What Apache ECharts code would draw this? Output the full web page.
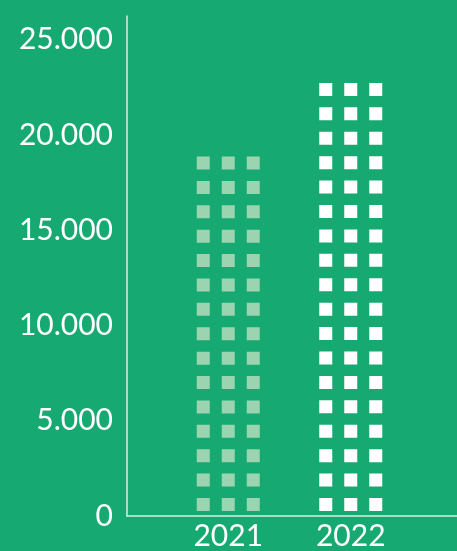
<!DOCTYPE html>
<html lang="en">
<head>
    <meta charset="UTF-8">
    <title>pictorial bar</title>
    <script type="text/javascript" src="https://cdn.jsdelivr.net/npm/echarts@6/dist/echarts.min.js"></script>
    <style>
        html, body { margin: 0; padding: 0; background: #16aa72; }
    </style>
</head>
<body>
    <div id="charts" style="width:457px;height:551px;"></div>
</body>
<script type="text/javascript">
    // data
    var years = ['2021', '2022'];
    var values = [18800, 22700];
    var squareRows = [15, 18];
    var squareColors = ['#9ad4b1', '#ffffff'];
    var yTicks = [0, 5000, 10000, 15000, 20000, 25000];

    var green = '#16aa72';
    var font = 'Lato';

    // 3 squares side by side, repeated up the bar
    var rowPath = 'path://M0,0h13v13h-13zM25,0h13v13h-13zM50,0h13v13h-13z';

    var myChart = echarts.init(document.getElementById('charts'));

    var option = {
        backgroundColor: green,
        animation: false,
        grid: [
            { left: 127, right: 0, top: 16, bottom: 35 },
            { left: 167, right: 45, top: 16, bottom: 35 }
        ],
        xAxis: [{
            gridIndex: 0,
            type: 'category',
            data: years,
            axisLine: { lineStyle: { color: '#d6eee2', width: 1.5 } },
            axisTick: { show: false },
            axisLabel: { show: false }
        }, {
            gridIndex: 1,
            type: 'category',
            data: years,
            axisLine: { show: false },
            axisTick: { show: false },
            axisLabel: {
                color: '#ffffff',
                fontFamily: font,
                fontSize: 30,
                margin: 10
            }
        }],
        yAxis: [{
            gridIndex: 0,
            type: 'value',
            min: 0,
            max: 26250,
            interval: 5000,
            splitLine: { show: false },
            axisTick: { show: false },
            axisLine: { show: true, lineStyle: { color: '#d6eee2', width: 1.5 } },
            axisLabel: {
                color: '#ffffff',
                fontFamily: font,
                fontSize: 30,
                margin: 14,
                padding: [5, 0, 0, 0],
                formatter: function (v) {
                    if (yTicks.indexOf(v) < 0) return '';
                    return v === 0 ? '0' : (v / 1000) + '.000';
                }
            }
        }, {
            gridIndex: 1,
            type: 'value',
            min: 0,
            max: 26250,
            show: false
        }],
        series: [{
            type: 'pictorialBar',
            xAxisIndex: 1,
            yAxisIndex: 1,
            symbol: rowPath,
            symbolSize: [63, 13],
            symbolMargin: 6,
            symbolPosition: 'start',
            data: values.map(function (v, i) {
                return {
                    value: v,
                    symbolRepeat: squareRows[i],
                    symbolBoundingData: v,
                    itemStyle: { color: squareColors[i] }
                };
            })
        }]
    };

    myChart.setOption(option);
</script>
</html>
